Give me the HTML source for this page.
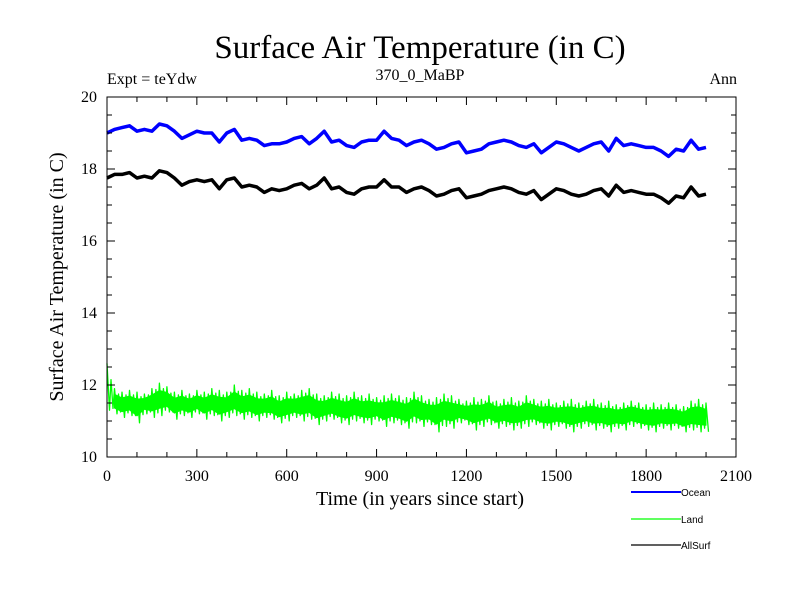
<!DOCTYPE html>
<html><head><meta charset="utf-8"><style>
body{margin:0;background:#fff}
svg{display:block}
text{font-family:"Liberation Serif",serif;fill:#000}
.leg{font-family:"Liberation Sans",sans-serif;font-size:10px}
</style></head><body>
<svg id="chart" width="800" height="600">
<text x="420" y="58" font-size="33" text-anchor="middle">Surface Air Temperature (in C)</text>
<text x="107" y="84" font-size="16">Expt = teYdw</text>
<text x="420" y="80" font-size="16" text-anchor="middle">370_0_MaBP</text>
<text x="737" y="84" font-size="16" text-anchor="end">Ann</text>
<text x="420" y="505" font-size="20" text-anchor="middle">Time (in years since start)</text>
<text transform="translate(63,277) rotate(-90)" font-size="20" text-anchor="middle">Surface Air Temperature (in C)</text>
<g id="marks"></g>
<g id="axes"></g>
<g>
<line x1="631" y1="492" x2="681" y2="492" stroke="#0000ff" stroke-width="2"/>
<text class="leg" x="681" y="496">Ocean</text>
<line x1="631" y1="519" x2="681" y2="519" stroke="#00ff00" stroke-width="1.2"/>
<text class="leg" x="681" y="523">Land</text>
<line x1="631" y1="545" x2="681" y2="545" stroke="#000" stroke-width="1.2"/>
<text class="leg" x="681" y="549">AllSurf</text>
</g>
</svg>
<script>
const years25 = [];
for (let i = 0; i <= 80; i++) years25.push(i * 25);
const oceanVals = [19.0,19.1,19.15,19.2,19.05,19.1,19.05,19.25,19.2,19.05,18.85,18.95,19.05,19.0,19.0,18.75,19.0,19.1,18.8,18.85,18.8,18.65,18.7,18.7,18.75,18.85,18.9,18.7,18.85,19.05,18.75,18.8,18.65,18.6,18.75,18.8,18.8,19.05,18.85,18.8,18.65,18.75,18.8,18.7,18.55,18.6,18.7,18.75,18.45,18.5,18.55,18.7,18.75,18.8,18.75,18.65,18.6,18.7,18.45,18.6,18.75,18.7,18.6,18.5,18.6,18.7,18.75,18.5,18.85,18.65,18.7,18.65,18.6,18.6,18.5,18.35,18.55,18.5,18.8,18.55,18.6];
const allSurfVals = [17.75,17.85,17.85,17.9,17.75,17.8,17.75,17.95,17.9,17.75,17.55,17.65,17.7,17.65,17.7,17.45,17.7,17.75,17.5,17.55,17.5,17.35,17.45,17.4,17.45,17.55,17.6,17.45,17.55,17.75,17.45,17.5,17.35,17.3,17.45,17.5,17.5,17.7,17.5,17.5,17.35,17.45,17.5,17.4,17.25,17.3,17.4,17.45,17.2,17.25,17.3,17.4,17.45,17.5,17.45,17.35,17.3,17.4,17.15,17.3,17.45,17.4,17.3,17.25,17.3,17.4,17.45,17.25,17.55,17.35,17.4,17.35,17.3,17.3,17.2,17.05,17.25,17.2,17.5,17.25,17.3];
const landHi = [12.6,11.9,11.8,11.85,11.8,11.75,11.9,12.05,11.95,11.8,11.85,11.75,11.85,11.8,11.9,11.85,11.8,12.0,11.85,11.9,11.8,11.75,11.85,11.7,11.8,11.75,11.85,11.9,11.75,11.7,11.8,11.75,11.7,11.8,11.7,11.75,11.65,11.7,11.75,11.7,11.65,11.8,11.7,11.6,11.65,11.75,11.7,11.6,11.55,11.65,11.6,11.7,11.55,11.6,11.65,11.55,11.7,11.6,11.55,11.6,11.5,11.55,11.6,11.5,11.55,11.6,11.5,11.55,11.45,11.5,11.55,11.5,11.45,11.5,11.45,11.5,11.45,11.4,11.55,11.6,11.5];
const landLo = [11.3,11.2,11.1,11.15,10.95,11.2,11.1,11.15,11.25,11.05,11.15,11.1,11.2,11.05,11.15,11.0,11.1,11.15,11.05,11.1,11.0,11.1,11.05,10.95,11.0,11.1,11.0,11.05,10.9,11.0,11.05,10.95,10.9,11.0,10.95,10.9,11.0,10.85,10.95,10.9,10.8,10.95,10.85,10.9,10.7,10.85,10.8,10.95,10.9,10.75,10.85,10.9,10.8,10.85,10.75,10.8,10.85,10.9,10.8,10.75,10.85,10.8,10.7,10.8,10.85,10.75,10.8,10.7,10.8,10.75,10.85,10.8,10.75,10.7,10.8,10.75,10.8,10.7,10.75,10.7,10.7];
const xTickLabels = ["0","300","600","900","1200","1500","1800","2100"];
const yTickLabels = ["10","12","14","16","18","20"];

const X0=107,X1=736,Y0=457,Y1=97;
const xScale = v => X0 + (v/2100)*(X1-X0);
const yScale = v => Y0 - ((v-10)/10)*(Y0-Y1);
const NS="http://www.w3.org/2000/svg";
const marks=document.getElementById('marks');
const axes=document.getElementById('axes');

function poly(pts,color,w,name,fill){
  const p=document.createElementNS(NS,fill?'polygon':'polyline');
  p.setAttribute('points',pts.map(q=>q[0].toFixed(1)+','+q[1].toFixed(1)).join(' '));
  p.setAttribute('fill',fill||'none');p.setAttribute('stroke',color);p.setAttribute('stroke-width',w);
  p.setAttribute('stroke-linejoin','round');
  
  
  marks.appendChild(p);
}
const nL=Math.min(landHi.length,landLo.length,years25.length);
// land band (inner 60% of envelope filled) and zigzag outline
const bandTop=[],bandBot=[];
for(let i=1;i<nL;i++){
  const x=xScale(years25[i]);
  const mid=(landHi[i]+landLo[i])/2, half=(landHi[i]-landLo[i])/2*0.55;
  bandTop.push([x,yScale(mid+half)]);
  bandBot.unshift([x,yScale(mid-half)]);
}
poly(bandTop.concat(bandBot),'#00ff00',1,'land-band','#00ff00');
const landPts=[];
for(let i=0;i<nL;i++){
  const x=xScale(years25[i]);
  landPts.push([x,yScale(landHi[i])]);
  landPts.push([x+2.5,yScale(landLo[i])]);
  if(i+1<nL){
    landPts.push([x+4,yScale((landHi[i]+landHi[i+1])/2-0.1)]);
    landPts.push([x+6,yScale((landLo[i]+landLo[i+1])/2+0.1)]);
  }
}
poly(landPts,'#00ff00',1.3,'land-series');
const oPts=[],aPts=[];
for(let i=0;i<Math.min(oceanVals.length,years25.length);i++){
  oPts.push([xScale(years25[i]),yScale(oceanVals[i])]);
}
for(let i=0;i<Math.min(allSurfVals.length,years25.length);i++){
  aPts.push([xScale(years25[i]),yScale(allSurfVals[i])]);
}
poly(oPts,'#0000ff',3.5,'ocean-series');
poly(aPts,'#000000',3.5,'allsurf-series');

function line(x1,y1,x2,y2,name){
  const l=document.createElementNS(NS,'line');
  l.setAttribute('x1',x1);l.setAttribute('y1',y1);l.setAttribute('x2',x2);l.setAttribute('y2',y2);
  l.setAttribute('stroke','#000');l.setAttribute('stroke-width','1');
  
  
  axes.appendChild(l);
}
const frame=document.createElementNS(NS,'rect');
frame.setAttribute('x',X0);frame.setAttribute('y',Y1);frame.setAttribute('width',X1-X0);frame.setAttribute('height',Y0-Y1);
frame.setAttribute('fill','none');frame.setAttribute('stroke','#000');


axes.appendChild(frame);
for(let v=0;v<=2100;v+=100){
  const x=xScale(v), L=(v%300===0)?8:5;
  line(x,Y0,x,Y0-L,'x-tick');line(x,Y1,x,Y1+L,'x-tick-top');
}
for(let v=10;v<=20.001;v+=0.5){
  const y=yScale(v), L=(Math.abs(v%2)<0.01)?8:5;
  line(X0,y,X0+L,y,'y-tick');line(X1,y,X1-L,y,'y-tick-right');
}
xTickLabels.forEach(s=>{
  const t=document.createElementNS(NS,'text');
  t.setAttribute('x',xScale(+s));t.setAttribute('y',Y0+24);
  t.setAttribute('font-size','16');t.setAttribute('text-anchor','middle');
  t.textContent=s;
  
  
  axes.appendChild(t);
});
yTickLabels.forEach(s=>{
  const t=document.createElementNS(NS,'text');
  t.setAttribute('x',X0-10);t.setAttribute('y',yScale(+s)+5);
  t.setAttribute('font-size','16');t.setAttribute('text-anchor','end');
  t.textContent=s;
  
  
  axes.appendChild(t);
});
</script>
</body></html>
